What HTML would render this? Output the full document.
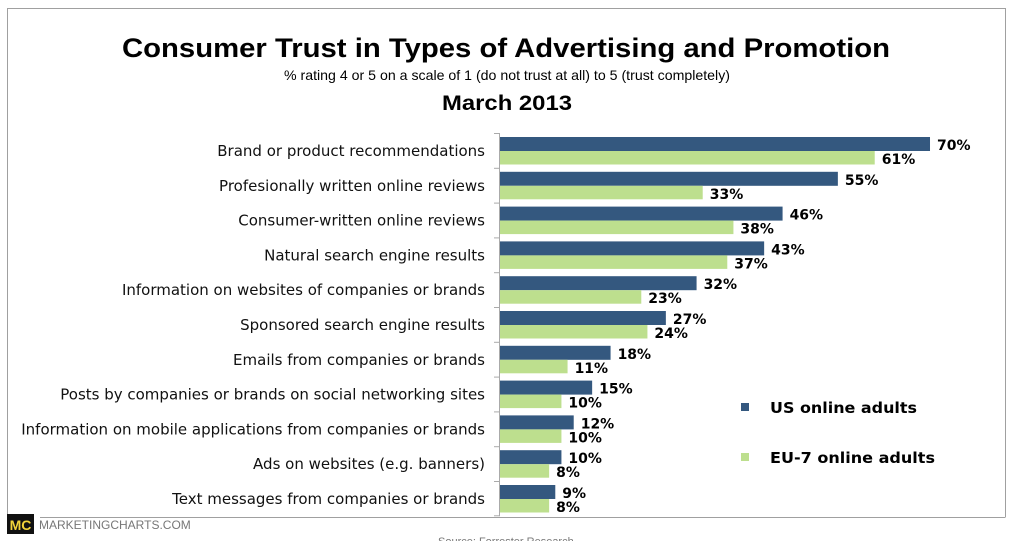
<!DOCTYPE html>
<html><head><meta charset="utf-8"><style>
html,body{margin:0;padding:0;background:#fff;}
svg{display:block;font-family:"Liberation Sans","DejaVu Sans",sans-serif;}
.dv{font-family:"DejaVu Sans","Liberation Sans",sans-serif;}
</style></head><body>
<svg width="1013" height="541" viewBox="0 0 1013 541" xmlns="http://www.w3.org/2000/svg">
<rect x="0" y="0" width="1013" height="541" fill="#fff"/>
<path d="M7.5,517 V8.5 H1005.5 V517 M40,517.5 H1005.5" stroke="#a0a0a0" stroke-width="1" fill="none"/>
<text x="506" y="57" text-anchor="middle" font-size="27" font-weight="bold" textLength="768" lengthAdjust="spacingAndGlyphs">Consumer Trust in Types of Advertising and Promotion</text>
<text x="507" y="80" text-anchor="middle" font-size="14" textLength="446" lengthAdjust="spacingAndGlyphs">% rating 4 or 5 on a scale of 1 (do not trust at all) to 5 (trust completely)</text>
<text x="507" y="110" text-anchor="middle" font-size="21" font-weight="bold" textLength="130" lengthAdjust="spacingAndGlyphs">March 2013</text>
<g id="chart"></g>
<text class="dv" x="770" y="413" font-size="15" font-weight="bold" textLength="147" lengthAdjust="spacingAndGlyphs">US online adults</text>
<rect x="741" y="403" width="8" height="8" fill="#34587f"/>
<text class="dv" x="770" y="463" font-size="15" font-weight="bold" textLength="165" lengthAdjust="spacingAndGlyphs">EU-7 online adults</text>
<rect x="741" y="453" width="8" height="8" fill="#bddf8e"/>
<rect x="7" y="514" width="27" height="20" fill="#111"/>
<text x="20.5" y="530" text-anchor="middle" font-size="14" font-weight="bold" fill="#f2d43a">MC</text>
<text x="39" y="529" font-size="12" fill="#777">MARKETINGCHARTS.COM</text>
<text x="438" y="545" font-size="11" fill="#777">Source: Forrester Research</text>
</svg>
<script>
var d=[["Brand or product recommendations",70,61],["Profesionally written online reviews",55,33],["Consumer-written online reviews",46,38],["Natural search engine results",43,37],["Information on websites of companies or brands",32,23],["Sponsored search engine results",27,24],["Emails from companies or brands",18,11],["Posts by companies or brands on social networking sites",15,10],["Information on mobile applications from companies or brands",12,10],["Ads on websites (e.g. banners)",10,8],["Text messages from companies or brands",9,8]];
var g=document.getElementById('chart'),s='',k=6.143,p=34.8,y0=133;
for(var i=0;i<d.length;i++){var y=y0+i*p;
s+='<rect x="500" y="'+(y+4)+'" width="'+(d[i][1]*k)+'" height="14" fill="#34587f"/>';
s+='<rect x="500" y="'+(y+18)+'" width="'+(d[i][2]*k)+'" height="13.5" fill="#bddf8e"/>';
s+='<text class="dv" x="'+(500+d[i][1]*k+7)+'" y="'+(y+17)+'" font-size="14" font-weight="bold">'+d[i][1]+'%</text>';
s+='<text class="dv" x="'+(500+d[i][2]*k+7)+'" y="'+(y+31)+'" font-size="14" font-weight="bold">'+d[i][2]+'%</text>';
s+='<text class="dv" x="485" y="'+(y+23)+'" text-anchor="end" font-size="15" fill="#111">'+d[i][0]+'</text>';
s+='<line x1="494" x2="500" y1="'+(y+.5)+'" y2="'+(y+.5)+'" stroke="#aaa"/>';}
s+='<line x1="494" x2="500" y1="'+(y0+11*p)+'" y2="'+(y0+11*p)+'" stroke="#aaa"/>';
s+='<line x1="499.5" x2="499.5" y1="'+y0+'" y2="'+(y0+11*p)+'" stroke="#aaa"/>';
g.innerHTML=s;
</script>
</body></html>
